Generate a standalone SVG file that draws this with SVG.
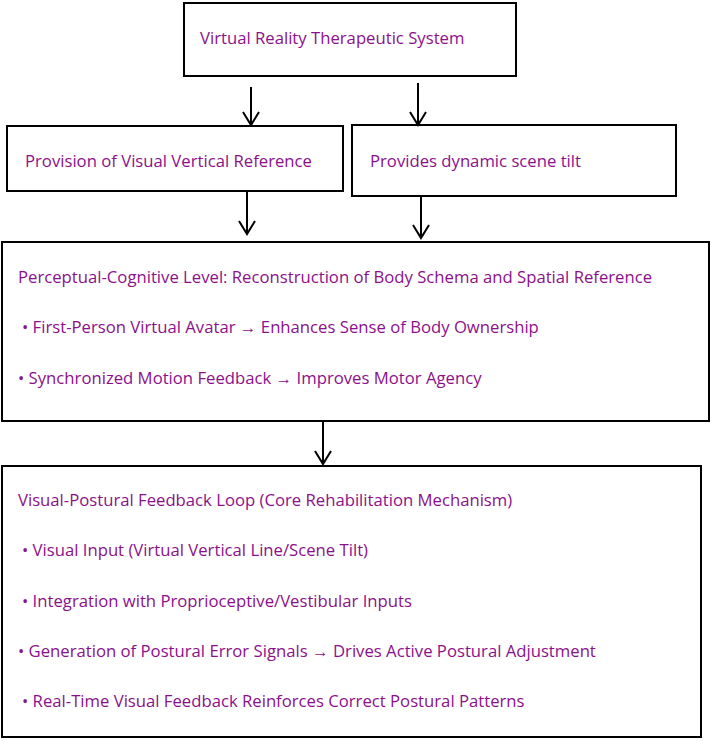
<svg xmlns="http://www.w3.org/2000/svg" width="710" height="741" viewBox="0 0 710 741">
<defs>
<marker id="ah" markerWidth="20" markerHeight="20" refX="15" refY="10" orient="auto" markerUnits="userSpaceOnUse" viewBox="0 0 20 20">
<path d="M2,2 L15,10 L2,18" fill="none" stroke="#000" stroke-width="2"/>
</marker>
<style>
.box{fill:#fff;stroke:#000;stroke-width:2}
.t{font-family:"Open Sans","Noto Sans","Liberation Sans",sans-serif;font-size:16.7px;fill:#8B108B}
.c{stroke:#000;stroke-width:2;fill:none}
</style>
</defs>
<rect width="710" height="741" fill="#fff"/>
<g id="n1"><rect class="box" x="184" y="3" width="332" height="73"/><text class="t" x="200" y="44">Virtual Reality Therapeutic System</text></g>
<g id="n2"><rect class="box" x="7" y="126" width="336" height="65"/><text class="t" x="25" y="167">Provision of Visual Vertical Reference</text></g>
<g id="n3"><rect class="box" x="352" y="125" width="324" height="71"/><text class="t" x="370" y="167">Provides dynamic scene tilt</text></g>
<g id="n4"><rect class="box" x="2" y="242" width="707" height="179"/>
<text class="t" x="18" y="283">Perceptual-Cognitive Level: Reconstruction of Body Schema and Spatial Reference</text>
<text class="t" x="22" y="333">• First-Person Virtual Avatar → Enhances Sense of Body Ownership</text>
<text class="t" x="18" y="384">• Synchronized Motion Feedback → Improves Motor Agency</text></g>
<g id="n5"><rect class="box" x="2" y="466" width="699" height="271"/>
<text class="t" x="18" y="506">Visual-Postural Feedback Loop (Core Rehabilitation Mechanism)</text>
<text class="t" x="22" y="556">• Visual Input (Virtual Vertical Line/Scene Tilt)</text>
<text class="t" x="22" y="607">• Integration with Proprioceptive/Vestibular Inputs</text>
<text class="t" x="18" y="657">• Generation of Postural Error Signals → Drives Active Postural Adjustment</text>
<text class="t" x="22" y="707">• Real-Time Visual Feedback Reinforces Correct Postural Patterns</text></g>
<g id="connectors">
<line class="c" x1="251" y1="87" x2="251" y2="125" marker-end="url(#ah)"/>
<line class="c" x1="418" y1="83" x2="418" y2="125" marker-end="url(#ah)"/>
<line class="c" x1="247" y1="192" x2="247" y2="234" marker-end="url(#ah)"/>
<line class="c" x1="421" y1="197" x2="421" y2="238" marker-end="url(#ah)"/>
<line class="c" x1="323" y1="422" x2="323" y2="464" marker-end="url(#ah)"/>
</g>
</svg>
